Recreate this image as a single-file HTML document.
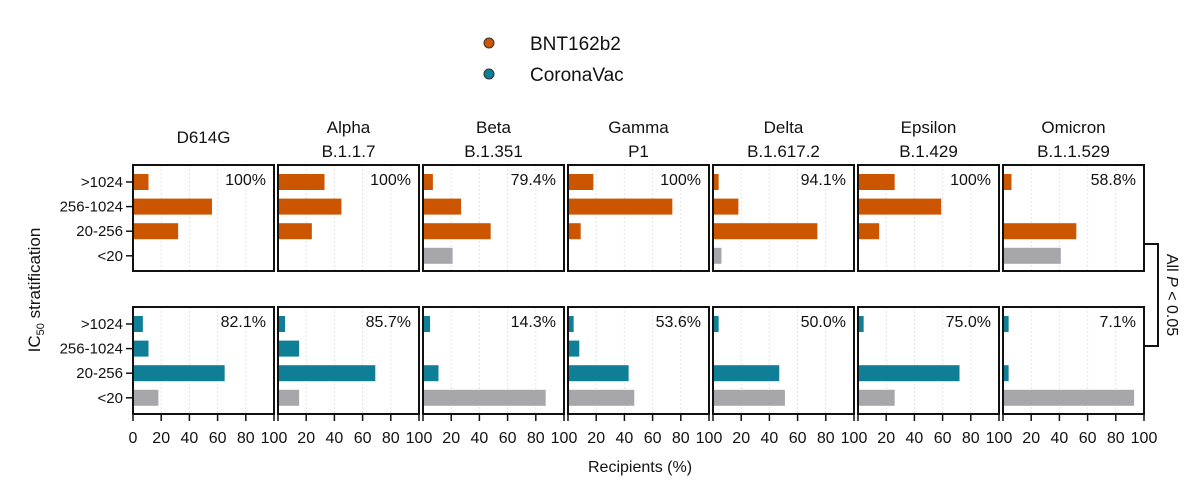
<!DOCTYPE html>
<html><head><meta charset="utf-8"><style>
body{margin:0;background:#fff;width:1200px;height:488px;overflow:hidden}
svg text{font-family:"Liberation Sans",Arial,sans-serif;fill:#111}
</style></head><body>
<svg id="chart" width="1200" height="488" viewBox="0 0 1200 488"></svg>
<script>
const variants = ["D614G","Alpha","Beta","Gamma","Delta","Epsilon","Omicron"];
const lineages = ["","B.1.1.7","B.1.351","P1","B.1.617.2","B.1.429","B.1.1.529"];
const categories = [">1024","256-1024","20-256","<20"];
const bntValues = [[11,56,32,0],[33,45,24,0],[7,27,48,21],[18,74,9,0],[4,18,74,6],[26,59,15,0],[6,0,52,41]];
const coronaValues = [[7,11,65,18],[5,15,69,15],[5,0,11,87],[4,8,43,47],[4,0,47,51],[4,0,72,26],[4,0,4,93]];
const bntPct = ["100%","100%","79.4%","100%","94.1%","100%","58.8%"];
const coronaPct = ["82.1%","85.7%","14.3%","53.6%","50.0%","75.0%","7.1%"];
const xTicks = [0,20,40,60,80,100];

const NS="http://www.w3.org/2000/svg";
const svg=document.getElementById('chart');
function mk(tag,attrs,parent){const e=document.createElementNS(NS,tag);for(const k in attrs)e.setAttribute(k,attrs[k]);(parent||svg).appendChild(e);return e;}
const panelW=141, pitch=145, x0=133;
function px(p){return x0+p*pitch;}
function xs(p,v){return px(p)+v/100*panelW;}
const rows=[{top:165,bot:271,vals:bntValues,pct:bntPct,color:"#cc5500"},{top:307,bot:414,vals:coronaValues,pct:coronaPct,color:"#0e7f96"}];
function yc(r,i){return r.top+17+i*24.6;}

// legend
let t;
const l1=mk('circle',{cx:489,cy:43,r:5,fill:"#cc5500",stroke:"#333","stroke-width":1});


t=mk('text',{x:530,y:50,"font-size":19});t.textContent="BNT162b2";


const l2=mk('circle',{cx:489,cy:74,r:5,fill:"#0e7f96",stroke:"#333","stroke-width":1});


t=mk('text',{x:530,y:81,"font-size":19});t.textContent="CoronaVac";



variants.forEach((v,p)=>{
  const cx=px(p)+panelW/2;
  if(lineages[p]){
    t=mk('text',{x:cx,y:133,"font-size":17,"text-anchor":"middle"});t.textContent=v;
    
    
    t=mk('text',{x:cx,y:157,"font-size":17,"text-anchor":"middle"});t.textContent=lineages[p];
    
    
  } else {
    t=mk('text',{x:cx,y:143,"font-size":17,"text-anchor":"middle"});t.textContent=v;
    
    
  }
  rows.forEach((r,ri)=>{
    [20,40,60,80].forEach(g=>{
      const gl=mk('line',{x1:xs(p,g),x2:xs(p,g),y1:r.top,y2:r.bot,stroke:"#e4e4e4","stroke-width":1,"stroke-dasharray":"2,2"});
      
      
    });
    r.vals[p].forEach((val,i)=>{
      if(val<=0)return;
      const b=mk('rect',{x:px(p),y:yc(r,i)-8,width:val/100*panelW,height:16,fill:i===3?"#a6a6ab":r.color});
      
      
    });
    const fr=mk('rect',{x:px(p),y:r.top,width:panelW,height:r.bot-r.top,fill:"none",stroke:"#111","stroke-width":2});
    
    
    t=mk('text',{x:px(p)+panelW-8,y:r.top+20,"font-size":16,"text-anchor":"end"});t.textContent=r.pct[p];
    
    
  });
  xTicks.forEach(tv=>{
    const tk=mk('line',{x1:xs(p,tv),x2:xs(p,tv),y1:414,y2:421,stroke:"#111","stroke-width":1.5});
    
    
    if(p>0&&tv===0)return;
    t=mk('text',{x:xs(p,tv),y:443,"font-size":16,"text-anchor":"middle"});t.textContent=tv;
    
    
  });
});
rows.forEach(r=>{
  categories.forEach((c,i)=>{
    const tk=mk('line',{x1:126,x2:133,y1:yc(r,i),y2:yc(r,i),stroke:"#111","stroke-width":1.5});
    
    
    t=mk('text',{x:123,y:yc(r,i)+5,"font-size":15,"text-anchor":"end"});t.textContent=c;
    
    
  });
});
// axis titles
t=mk('text',{x:640,y:472,"font-size":16,"text-anchor":"middle"});t.textContent="Recipients (%)";


t=mk('text',{transform:"translate(40,290) rotate(-90)","font-size":17,"text-anchor":"middle"});
t.innerHTML='IC<tspan font-size="11" dy="4">50</tspan><tspan dy="-4"> stratification</tspan>';


// bracket
const br=mk('path',{d:"M1145 244 H1158 V346 H1145",fill:"none",stroke:"#111","stroke-width":2});


t=mk('text',{transform:"translate(1167,295) rotate(90)","font-size":16,"text-anchor":"middle"});
t.innerHTML='All <tspan font-style="italic">P</tspan> &lt; 0.05';


</script>
</body></html>
